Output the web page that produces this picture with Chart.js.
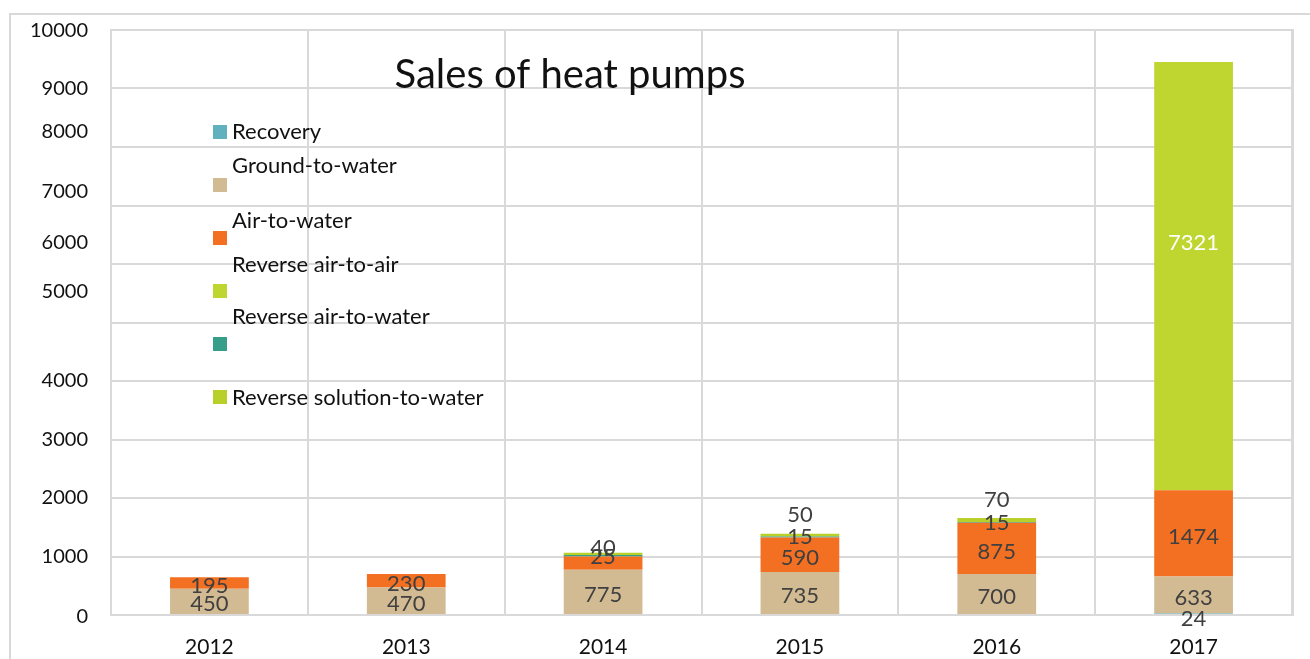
<!DOCTYPE html>
<html>
<head>
<meta charset="utf-8">
<style>
  html, body { margin: 0; padding: 0; background: #ffffff; }
  #wrap { position: relative; width: 1310px; height: 659px; }
  canvas { display: block; }
</style>
<script src="https://cdn.jsdelivr.net/npm/chart.js@4/dist/chart.umd.min.js"></script>
</head>
<body>
<div id="wrap"><canvas id="c" width="1310" height="659"></canvas></div>
<script>
// ---- data ----
const categories = ['2012', '2013', '2014', '2015', '2016', '2017'];
const seriesNames = ['Recovery', 'Ground-to-water', 'Air-to-water', 'Reverse air-to-air', 'Reverse air-to-water', 'Reverse solution-to-water'];
const recovery = [null, null, null, null, null, 24];
const groundToWater = [450, 470, 775, 735, 700, 633];
const airToWater = [195, 230, 225, 590, 875, 1474];
const reverseAirToAir = [null, null, null, null, null, 7321];
const reverseAirToWater = [null, null, 25, 15, 15, null];
const reverseSolutionToWater = [null, null, 40, 50, 70, null];
const yTicks = [0, 1000, 2000, 3000, 4000, 5000, 6000, 7000, 8000, 9000, 10000];
const chartTitle = 'Sales of heat pumps';

// ---- styles ----
const seriesColors = ['#62B1BE', '#D2BB93', '#F36F21', '#BFD630', '#369E89', '#B9CF2A'];
const FONT = 'Lato, "Open Sans", sans-serif';
const GRID = '#D9D9D9';

const seriesValues = [recovery, groundToWater, airToWater, reverseAirToAir, reverseAirToWater, reverseSolutionToWater];

// labels not shown in the original / nudged labels (presentation only)
const hiddenLabels = { '2|2': true };
const labelNudge = { '3|5': -36, '0|5': 2, '5|2': 7, '5|3': -7, '5|4': -6, '4|2': -2, '4|3': -3, '4|4': -3 };
const raisedSeries = 5; // top series labels sit above the stack
const yLabelNudge = { 0: 2, 5000: -31, 6000: -21, 7000: -14, 8000: -15, 10000: 1 };

const datasets = seriesNames.map((name, i) => ({
  label: name,
  data: seriesValues[i],
  backgroundColor: seriesColors[i],
  borderWidth: 0,
  barPercentage: 0.4,
  categoryPercentage: 1.0
}));

const decorPlugin = {
  id: 'decor',
  beforeDraw(chart) {
    const ctx = chart.ctx;
    ctx.save();
    ctx.fillStyle = '#fff';
    ctx.fillRect(0, 0, chart.width, chart.height);
    ctx.strokeStyle = GRID;
    ctx.lineWidth = 2;
    ctx.beginPath();
    ctx.moveTo(10, chart.height + 2);
    ctx.lineTo(10, 14);
    ctx.lineTo(chart.width + 2, 14);
    ctx.stroke();
    ctx.restore();
  },
  afterDraw(chart) {
    const ctx = chart.ctx;
    const y = chart.scales.y;
    ctx.save();
    // y tick labels
    ctx.font = '20px ' + FONT;
    ctx.fillStyle = '#111';
    ctx.textAlign = 'right';
    ctx.textBaseline = 'middle';
    yTicks.forEach(v => {
      ctx.fillText(String(v), 88, y.getPixelForValue(v) + (yLabelNudge[v] || 0));
    });
    // title
    ctx.font = '40px ' + FONT;
    ctx.fillStyle = '#111';
    ctx.textAlign = 'center';
    ctx.textBaseline = 'alphabetic';
    ctx.fillText(chartTitle, 570, 88);
    // data labels
    ctx.font = '22px ' + FONT;
    ctx.textAlign = 'center';
    ctx.textBaseline = 'middle';
    chart.data.datasets.forEach((ds, i) => {
      const meta = chart.getDatasetMeta(i);
      ds.data.forEach((v, j) => {
        if (v == null || hiddenLabels[i + '|' + j]) return;
        const el = meta.data[j];
        let ly = (el.y + el.base) / 2 + 3;
        if (i === raisedSeries) ly = el.y - 12;
        ly += labelNudge[i + '|' + j] || 0;
        ctx.fillStyle = (i === 3) ? '#ffffff' : '#404040';
        ctx.fillText(String(v), el.x, ly);
      });
    });
    // legend
    const legendRows = [
      { box: 132, text: 132 },
      { box: 185, text: 166 },
      { box: 238, text: 221 },
      { box: 291, text: 265 },
      { box: 344, text: 317 },
      { box: 397, text: 398 }
    ];
    ctx.font = '22px ' + FONT;
    ctx.textAlign = 'left';
    ctx.textBaseline = 'middle';
    chart.data.datasets.forEach((ds, i) => {
      const r = legendRows[i];
      ctx.fillStyle = ds.backgroundColor;
      ctx.fillRect(213, r.box - 7, 14, 14);
      ctx.fillStyle = '#111';
      ctx.fillText(ds.label, 232, r.text);
    });
    ctx.restore();
  }
};

new Chart(document.getElementById('c'), {
  type: 'bar',
  data: { labels: categories, datasets },
  options: {
    responsive: false,
    animation: false,
    layout: { padding: { left: 0, right: 18, top: 30, bottom: 0 } },
    plugins: { legend: { display: false }, title: { display: false }, tooltip: { enabled: false } },
    scales: {
      x: {
        stacked: true,
        grid: { color: GRID, lineWidth: 2, drawTicks: false, offset: true },
        border: { color: GRID, width: 2 },
        ticks: { color: '#111', font: { family: FONT, size: 21 }, padding: 20 },
        afterFit(s) { s.height = 44; }
      },
      y: {
        stacked: true,
        min: 0,
        max: 10000,
        grid: { color: GRID, lineWidth: 2, drawTicks: false },
        border: { color: GRID, width: 2 },
        ticks: { display: false, stepSize: 1000 },
        afterFit(s) { s.width = 111; }
      },
      y2: {
        position: 'right',
        display: true,
        grid: { display: false },
        border: { color: GRID, width: 3 },
        ticks: { display: false },
        afterFit(s) { s.width = 0; }
      }
    }
  },
  plugins: [decorPlugin]
});
</script>
</body>
</html>
